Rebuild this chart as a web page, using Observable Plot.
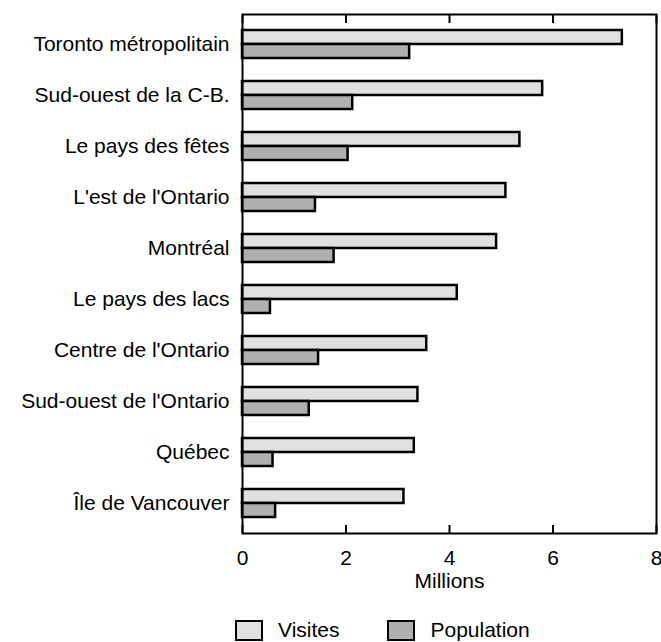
<!DOCTYPE html>
<html><head><meta charset="utf-8">
<script src="https://cdn.jsdelivr.net/npm/d3@7"></script>
<script src="https://cdn.jsdelivr.net/npm/@observablehq/plot@0.6"></script>
<style>
body{margin:0;background:#fff;font-family:"Liberation Sans",Arial,sans-serif;}
#legend{display:flex;margin-left:235px;margin-top:18px;gap:48px;font-size:21px;color:#000;line-height:24px;}
.item{display:flex;align-items:center;gap:15px;}
.sw{width:24px;height:17px;border:2px solid #000;}
</style></head><body><div id="chart"></div><div id="legend"></div>
<script>
const regions = ["Toronto métropolitain","Sud-ouest de la C-B.","Le pays des fêtes","L'est de l'Ontario","Montréal","Le pays des lacs","Centre de l'Ontario","Sud-ouest de l'Ontario","Québec","Île de Vancouver"];
const visites = [7.34, 5.80, 5.36, 5.09, 4.91, 4.15, 3.56, 3.39, 3.32, 3.12];
const population = [3.23, 2.13, 2.04, 1.41, 1.77, 0.54, 1.47, 1.29, 0.59, 0.64];
const seriesNames = ["Visites","Population"];
const seriesColors = ["#e0e0e0","#b0b0b0"];
const xTicks = [0,2,4,6,8];
const xLabel = "Millions";

const W = 661, H = 600, mt = 14, mb = 67, ml = 242, mr = 5;
const padIn = 0.46, padOut = 0.23;
const bw = d3.scaleBand().domain(regions).range([mt, H - mb]).paddingInner(padIn).paddingOuter(padOut).bandwidth();

const data = regions.map((r, i) => ({region: r, visites: visites[i], population: population[i]}));

const chart = Plot.plot({
  width: W, height: H, marginTop: mt, marginBottom: mb, marginLeft: ml, marginRight: mr,
  style: {fontFamily: '"Liberation Sans", Arial, sans-serif', fontSize: "21px", color: "#000", background: "#fff"},
  x: {domain: [0, 8]},
  y: {domain: regions, paddingInner: padIn, paddingOuter: padOut},
  marks: [
    Plot.barX(data, {y: "region", x: "visites", fill: seriesColors[0], stroke: "#000", strokeWidth: 2.5, insetBottom: bw / 2}),
    Plot.barX(data, {y: "region", x: "population", fill: seriesColors[1], stroke: "#000", strokeWidth: 2.5, insetTop: bw / 2}),
    Plot.frame({stroke: "#000", strokeWidth: 2}),
    Plot.axisX(xTicks, {anchor: "bottom", tickSize: -8, text: null, tickFormat: () => "", strokeWidth: 2, label: null}),
    Plot.axisX(xTicks, {anchor: "top", tickSize: -8, text: null, tickFormat: () => "", strokeWidth: 2, label: null}),
    Plot.axisX(xTicks, {anchor: "bottom", tickSize: 0, tickPadding: 17, label: null}),
    Plot.axisY({tickSize: 0, tickPadding: 13, label: null}),
    Plot.text([xLabel], {frameAnchor: "bottom", dy: 54, fontSize: 21})
  ]
});
document.getElementById("chart").appendChild(chart);

const legend = document.getElementById("legend");
seriesNames.forEach((n, i) => {
  const it = document.createElement("div"); it.className = "item";
  const sw = document.createElement("div"); sw.className = "sw"; sw.style.background = seriesColors[i];
  const t = document.createElement("span"); t.textContent = n;
  it.appendChild(sw); it.appendChild(t); legend.appendChild(it);
});
</script></body></html>
